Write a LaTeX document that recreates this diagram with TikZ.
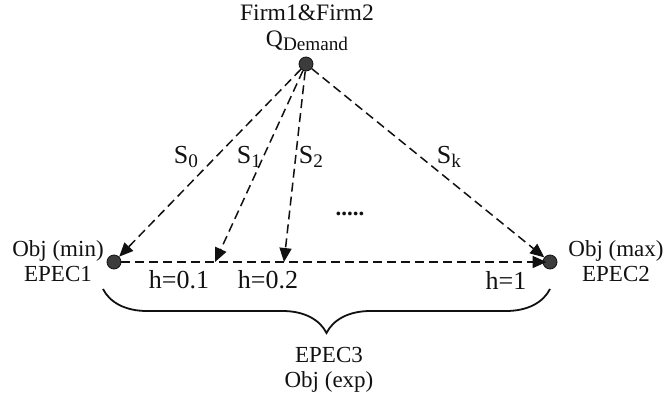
\documentclass[tikz,border=0pt]{standalone}
\usepackage{fontspec}
\setmainfont{Liberation Serif}
\usetikzlibrary{arrows.meta,decorations.pathreplacing}
\definecolor{ink}{HTML}{111111}
\definecolor{dotc}{HTML}{3C3C3C}
\newcommand{\lowsub}[1]{\raisebox{-0.32ex}{\fontsize{9.6}{10}\selectfont #1}}
\tikzset{
  pt/.style={circle,fill=dotc,draw=ink,line width=0.4pt,inner sep=0pt,minimum size=7pt},
  dsh/.style={draw=ink,line width=0.75pt,dash pattern=on 4.5pt off 2.5pt,
    -{Triangle[length=7pt,width=6pt]}},
  lbl/.style={font=\fontsize{11.5}{12.8}\selectfont,text=ink,align=center},
  biglbl/.style={lbl,font=\fontsize{13}{14}\selectfont},
}

\begin{document}
\begin{tikzpicture}[x=0.5pt,y=-0.5pt]
\useasboundingbox (0,0) rectangle (671,402);
% the three end points and the two marks on the h axis
\node[pt] (top) at (306,64) {};
\node[pt] (lft) at (114,262) {};
\node[pt] (rgt) at (550,262) {};
\coordinate (h1) at (215,262);
\coordinate (h2) at (284,262);
\draw[dsh] (top) -- (lft);
\draw[dsh] (top) -- (h1);
\draw[dsh] (top) -- (h2);
\draw[dsh] (top) -- (rgt);
\draw[dsh,shorten >=-2pt] (lft) -- (rgt);
\node[lbl,font=\fontsize{11.8}{13}\selectfont] (firms) at (307,28)
  {Firm1\&Firm2\\Q\lowsub{Demand}};
\node[lbl] (omin) at (58,261) {Obj (min)\\EPEC1};
\node[lbl] (omax) at (616,261) {Obj (max)\\EPEC2};
\foreach \x/\s in {186/0, 249/1, 311/2, 449/k}{%
  \node[biglbl] (s\s) at (\x,157) {S\lowsub{\s}};
}
\node[lbl] (dots) at (350,214) {\textbf{.....}};
\foreach \x/\h/\n in {179/0.1/a, 268/0.2/b, 506/1/c}{%
  \node[biglbl] (h\n) at (\x,280) {h=\h};
}
\draw[ink,line width=0.9pt,decorate,decoration={brace,mirror,amplitude=22pt}]
  (103,289) -- (550,289);
\node[lbl] (epec3) at (329,370) {EPEC3\\Obj (exp)};
\end{tikzpicture}
\end{document}
